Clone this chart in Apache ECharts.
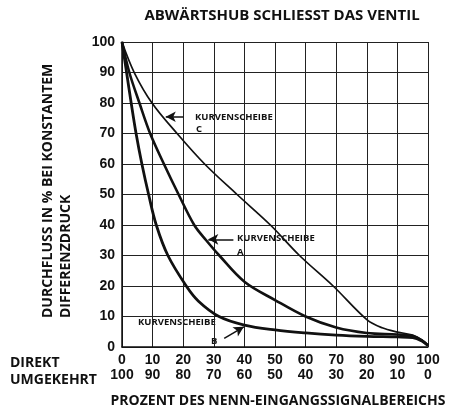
<!DOCTYPE html>
<html>
<head>
<meta charset="utf-8">
<script src="https://cdn.jsdelivr.net/npm/echarts@6/dist/echarts.min.js"></script>
<style>html,body{margin:0;padding:0;background:#fff}#c{width:457px;height:417px}</style>
</head>
<body>
<div id="c"></div>
<script>
// Data (x = % input signal, y = % flow)
const xTicks = [0,10,20,30,40,50,60,70,80,90,100];
const xTicksReverse = [100,90,80,70,60,50,40,30,20,10,0];
const curveA = [[0,100],[2.4,90],[5.7,80],[9.2,70],[13.7,60],[18.5,50],[23.6,40],[27.5,35],[31.8,30],[40,21.4],[50,15.4],[60,10],[70,6.4],[80,4.6],[90,4.1],[95,3.6],[98,2.2],[100,0.5]];
const curveB = [[0,100],[1.5,90],[3,80],[4.6,70],[6.5,60],[8.7,50],[11.2,40],[15,30],[21,20],[25,15],[31.7,10],[40,7.2],[50,5.6],[60,4.6],[70,3.9],[80,3.5],[90,3.3],[95,3.1],[98,2],[100,0.5]];
const curveC = [[0,100],[4,90],[9.8,80],[18,70],[27,60],[37.6,50],[48.5,40],[58,30],[69,20],[80,9],[85,6.3],[90,4.9],[95,3.9],[98,2.3],[100,0.5]];
const arrowC = [[20,75.5],[14.3,75.5]];
const arrowA = [[36.4,35.3],[28.2,35.3]];
const arrowB = [[33.4,2.8],[39.8,6.6]];

const chart = echarts.init(document.getElementById('c'));
const F = '"Open Sans", "DejaVu Sans", sans-serif';
const N = '"Liberation Sans", Arial, sans-serif';
const bold = {fontFamily: F, fontWeight: 'bold', fill: '#111'};

function arrowLine(a) {
  return [{coord: a[0], symbol: 'none'}, {coord: a[1], symbol: 'arrow'}];
}

chart.setOption({
  animation: false,
  grid: {left: 122, right: 29, top: 42, bottom: 70},
  xAxis: {
    type: 'value', min: 0, max: 100, interval: 10,
    axisLine: {show: true, lineStyle: {color: '#111', width: 1.5}},
    axisTick: {show: false},
    splitLine: {show: true, lineStyle: {color: '#222', width: 1}},
    axisLabel: {
      margin: 6, fontFamily: N, fontWeight: 'bold', fontSize: 14, color: '#111', lineHeight: 15,
      formatter: function (v) { const i = xTicks.indexOf(v); return xTicks[i] + '\n' + xTicksReverse[i]; }
    }
  },
  yAxis: {
    type: 'value', min: 0, max: 100, interval: 10,
    axisLine: {show: true, lineStyle: {color: '#111', width: 1.5}},
    axisTick: {show: false},
    splitLine: {show: true, lineStyle: {color: '#222', width: 1}},
    axisLabel: {margin: 7, fontFamily: N, fontWeight: 'bold', fontSize: 14, color: '#111'}
  },
  series: [
    {type: 'line', data: curveA, smooth: 0.35, symbol: 'none', lineStyle: {color: '#111', width: 2.6}},
    {type: 'line', data: curveB, smooth: 0.35, symbol: 'none', lineStyle: {color: '#111', width: 2.8}},
    {type: 'line', data: curveC, smooth: 0.35, symbol: 'none', lineStyle: {color: '#111', width: 1.7},
      markLine: {silent: true, symbolSize: [8, 10], label: {show: false},
        lineStyle: {color: '#111', width: 1.5, type: 'solid'},
        data: [arrowLine(arrowC), arrowLine(arrowA), arrowLine(arrowB)]}}
  ],
  graphic: [
    {type: 'text', style: Object.assign({text: 'ABWÄRTSHUB SCHLIESST DAS VENTIL', x: 282, y: 16, fontSize: 15, textAlign: 'center', textVerticalAlign: 'middle'}, bold)},
    {type: 'text', style: Object.assign({text: 'PROZENT DES NENN-EINGANGSSIGNALBEREICHS', x: 278, y: 401, fontSize: 14, textAlign: 'center', textVerticalAlign: 'middle'}, bold)},
    {type: 'text', style: Object.assign({text: 'DIREKT', x: 10, y: 363, fontSize: 14, textAlign: 'left', textVerticalAlign: 'middle'}, bold)},
    {type: 'text', style: Object.assign({text: 'UMGEKEHRT', x: 10, y: 380, fontSize: 14, textAlign: 'left', textVerticalAlign: 'middle'}, bold)},
    {type: 'text', x: 48, y: 318, rotation: Math.PI / 2, style: Object.assign({text: 'DURCHFLUSS IN % BEI KONSTANTEM', x: 0, y: 0, fontSize: 14, textAlign: 'left', textVerticalAlign: 'middle'}, bold)},
    {type: 'text', x: 66, y: 318, rotation: Math.PI / 2, style: Object.assign({text: 'DIFFERENZDRUCK', x: 0, y: 0, fontSize: 14, textAlign: 'left', textVerticalAlign: 'middle'}, bold)},
    {type: 'text', style: Object.assign({text: 'KURVENSCHEIBE', x: 195, y: 117, fontSize: 9.5, textAlign: 'left', textVerticalAlign: 'middle'}, bold)},
    {type: 'text', style: Object.assign({text: 'C', x: 196, y: 129, fontSize: 9.5, textAlign: 'left', textVerticalAlign: 'middle'}, bold)},
    {type: 'text', style: Object.assign({text: 'KURVENSCHEIBE', x: 237, y: 238, fontSize: 9.5, textAlign: 'left', textVerticalAlign: 'middle'}, bold)},
    {type: 'text', style: Object.assign({text: 'A', x: 237, y: 252, fontSize: 9.5, textAlign: 'left', textVerticalAlign: 'middle'}, bold)},
    {type: 'text', style: Object.assign({text: 'KURVENSCHEIBE', x: 138, y: 322, fontSize: 9.5, textAlign: 'left', textVerticalAlign: 'middle'}, bold)},
    {type: 'text', style: Object.assign({text: 'B', x: 211, y: 341, fontSize: 9.5, textAlign: 'left', textVerticalAlign: 'middle'}, bold)}
  ]
});
</script>
</body>
</html>
